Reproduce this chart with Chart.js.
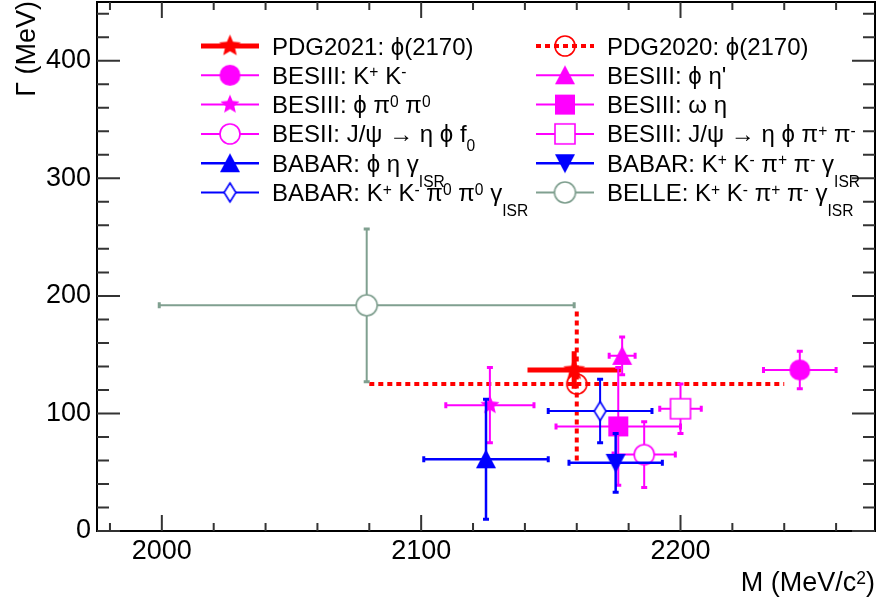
<!DOCTYPE html>
<html>
<head>
<meta charset="utf-8">
<script src="https://cdn.jsdelivr.net/npm/chart.js@4.4.1/dist/chart.umd.min.js"></script>
<style>
  html, body { margin: 0; padding: 0; background: #fff; }
  #chart { display: block; }
</style>
</head>
<body>
<canvas id="chart" width="877" height="604"></canvas>
<script>
// entries in legend order (row by row, left column then right column)
const entryLabels = [
  'PDG2021: ϕ(2170)', 'PDG2020: ϕ(2170)',
  'BESIII: K^{+} K^{-}', "BESIII: ϕ η'",
  'BESIII: ϕ π^{0} π^{0}', 'BESIII: ω η',
  'BESII: J/ψ → η ϕ f_{0}', 'BESIII: J/ψ → η ϕ π^{+} π^{-}',
  'BABAR: ϕ η γ_{ISR}', 'BABAR: K^{+} K^{-} π^{+} π^{-} γ_{ISR}',
  'BABAR: K^{+} K^{-} π^{0} π^{0} γ_{ISR}', 'BELLE: K^{+} K^{-} π^{+} π^{-} γ_{ISR}'
];
const mass     = [2159, 2160, 2246, 2177.5, 2126.5, 2176, 2186, 2200, 2125, 2175, 2169, 2079];
const massErr  = [18,   80,   14,   5,      17,     24,   12,   8,    24,   18,   20,   80];
const gamma    = [137,  125,  137,  149,    107,    89,   65,   104,  61,   58,   102,  192];
const gammaErr = [16,   65,   16,   16,     32,     50,   28,   21,   51,   25,   27,   65];

const xMajor = [2000, 2100, 2200];
const yMajor = [0, 100, 200, 300, 400];

const xTitle = 'M (MeV/c^{2})';
const yTitle = 'Γ (MeV)';

// styles
const FONT = '"Liberation Sans", Arial, Helvetica, "DejaVu Sans", sans-serif';
const RED = '#ff0000', MAG = '#ff00ff', BLUE = '#0000ff', GREY = '#80a090';
const colors = [RED, RED, MAG, MAG, MAG, MAG, MAG, MAG, BLUE, BLUE, BLUE, GREY];
const shapes = ['star', 'circle', 'circle', 'triangle', 'star', 'square', 'circle', 'square', 'triangle', 'itriangle', 'diamond', 'circle'];
const fills  = ['fill', 'hollow', 'fill', 'fill', 'fill', 'fill', 'open', 'open', 'fill', 'fill', 'open', 'open'];
const markerSizes = [23, 20, 21, 20, 20, 20, 20, 20, 20, 20, 19, 21];
const lineWidths = [5, 4, 2, 2, 2, 2, 2, 2, 2.5, 2.5, 2, 2];
const dashes = [[], [5, 4], [], [], [], [], [], [], [], [], [], []];
const caps = [false, false, true, true, true, true, true, true, true, true, true, true];

function makeMarker(shape, color, fill, size) {
  const pad = 3;
  const c = document.createElement('canvas');
  c.width = c.height = Math.ceil(size + pad * 2);
  const g = c.getContext('2d');
  const m = c.width / 2, r = size / 2;
  g.beginPath();
  if (shape === 'circle') {
    g.arc(m, m, r, 0, Math.PI * 2);
  } else if (shape === 'square') {
    g.rect(m - r, m - r, size, size);
  } else if (shape === 'triangle') {
    g.moveTo(m, m - r); g.lineTo(m + r, m + r * 0.9); g.lineTo(m - r, m + r * 0.9); g.closePath();
  } else if (shape === 'itriangle') {
    g.moveTo(m, m + r); g.lineTo(m + r, m - r * 0.9); g.lineTo(m - r, m - r * 0.9); g.closePath();
  } else if (shape === 'diamond') {
    g.moveTo(m, m - r); g.lineTo(m + r * 0.62, m); g.lineTo(m, m + r); g.lineTo(m - r * 0.62, m); g.closePath();
  } else if (shape === 'star') {
    for (let k = 0; k < 10; k++) {
      const a = -Math.PI / 2 + k * Math.PI / 5;
      const rr = k % 2 ? r * 0.45 : r;
      g.lineTo(m + rr * Math.cos(a), m + rr * Math.sin(a));
    }
    g.closePath();
  }
  if (fill === 'fill') {
    g.fillStyle = color; g.fill();
  } else {
    if (fill === 'open') { g.fillStyle = '#fff'; g.fill(); }
    g.strokeStyle = color; g.lineWidth = 1.6; g.stroke();
  }
  return c;
}

const markers = entryLabels.map((_, i) => makeMarker(shapes[i], colors[i], fills[i], markerSizes[i]));

const datasets = entryLabels.map((label, i) => ({
  label: label,
  data: [{ x: mass[i], y: gamma[i] }],
  pointStyle: markers[i],
  pointRadius: markerSizes[i] / 2,
  order: entryLabels.length - i
}));

// split "a^{b} c_{d}" into plain / super / sub pieces
function richSegments(str) {
  const segs = [];
  const re = /([\^_])\{([^}]*)\}/g;
  let last = 0, m;
  while ((m = re.exec(str))) {
    if (m.index > last) segs.push({ t: str.slice(last, m.index), k: '' });
    segs.push({ t: m[2], k: m[1] });
    last = re.lastIndex;
  }
  if (last < str.length) segs.push({ t: str.slice(last), k: '' });
  return segs;
}

function drawRich(ctx, str, x, y, size, align) {
  const segs = richSegments(str);
  const small = size * 0.65;
  let w = 0;
  segs.forEach(s => {
    ctx.font = (s.k ? small : size) + 'px ' + FONT;
    s.w = ctx.measureText(s.t).width;
    w += s.w;
  });
  let cx = align === 'right' ? x - w : x;
  ctx.textAlign = 'left';
  ctx.textBaseline = 'alphabetic';
  segs.forEach((s, j) => {
    ctx.font = (s.k ? small : size) + 'px ' + FONT;
    let dy = 0;
    if (s.k === '^') dy = -size * 0.27;
    if (s.k === '_') {
      const prev = j > 0 ? segs[j - 1].t.trim().slice(-1) : '';
      dy = /[γηψ]/.test(prev) ? size * 0.62 : size * 0.34;
    }
    ctx.fillText(s.t, cx, y + dy);
    cx += s.w;
  });
}

function noPadding(s) {
  s.paddingTop = 0; s.paddingBottom = 0; s.paddingLeft = 0; s.paddingRight = 0;
}

const rootStyle = {
  id: 'rootStyle',
  beforeDatasetsDraw(chart) {
    const { ctx } = chart;
    const xs = chart.scales.x, ys = chart.scales.y;
    const L = xs.left, R = xs.right, T = ys.top, B = ys.bottom;
    ctx.save();
    ctx.strokeStyle = '#000';
    ctx.lineWidth = 2;
    ctx.strokeRect(L, T, R - L, B - T);
    ctx.strokeStyle = '#333';
    ctx.beginPath();
    for (let v = 1980; v <= xs.max; v += 20) {
      const p = xs.getPixelForValue(v);
      const len = v % 100 === 0 ? 16 : 8;
      ctx.moveTo(p, B); ctx.lineTo(p, B - len);
      ctx.moveTo(p, T); ctx.lineTo(p, T + len);
    }
    for (let v = 0; v <= ys.max; v += 20) {
      const p = ys.getPixelForValue(v);
      const len = v % 100 === 0 ? 23 : 12;
      ctx.moveTo(L, p); ctx.lineTo(L + len, p);
      ctx.moveTo(R, p); ctx.lineTo(R - len, p);
    }
    ctx.stroke();
    ctx.restore();
  },
  beforeDatasetDraw(chart, args) {
    const i = args.index;
    const { ctx } = chart;
    const xs = chart.scales.x, ys = chart.scales.y;
    const px = xs.getPixelForValue(mass[i]), py = ys.getPixelForValue(gamma[i]);
    const x0 = xs.getPixelForValue(mass[i] - massErr[i]), x1 = xs.getPixelForValue(mass[i] + massErr[i]);
    const y0 = ys.getPixelForValue(gamma[i] - gammaErr[i]), y1 = ys.getPixelForValue(gamma[i] + gammaErr[i]);
    ctx.save();
    ctx.strokeStyle = colors[i];
    ctx.lineWidth = lineWidths[i];
    ctx.setLineDash(dashes[i]);
    ctx.beginPath();
    ctx.moveTo(x0, py); ctx.lineTo(x1, py);
    ctx.moveTo(px, y0); ctx.lineTo(px, y1);
    ctx.stroke();
    if (caps[i]) {
      ctx.setLineDash([]);
      ctx.lineWidth = 3;
      ctx.beginPath();
      ctx.moveTo(x0, py - 3); ctx.lineTo(x0, py + 3);
      ctx.moveTo(x1, py - 3); ctx.lineTo(x1, py + 3);
      ctx.moveTo(px - 3, y0); ctx.lineTo(px + 3, y0);
      ctx.moveTo(px - 3, y1); ctx.lineTo(px + 3, y1);
      ctx.stroke();
    }
    ctx.restore();
  },
  afterDraw(chart) {
    const { ctx } = chart;
    const xs = chart.scales.x;
    ctx.save();
    ctx.fillStyle = '#000';
    // axis titles
    drawRich(ctx, xTitle, xs.right, 591, 27, 'right');
    ctx.save();
    ctx.translate(35, 1);
    ctx.rotate(-Math.PI / 2);
    drawRich(ctx, yTitle, 0, 0, 27, 'right');
    ctx.restore();
    // legend
    entryLabels.forEach((label, i) => {
      const col = i % 2, row = Math.floor(i / 2);
      const yc = 46 + row * 29.3;
      const lx0 = col ? 536 : 201, lx1 = lx0 + 58, tx = col ? 607 : 272;
      ctx.save();
      ctx.strokeStyle = colors[i];
      ctx.lineWidth = lineWidths[i];
      ctx.setLineDash(dashes[i]);
      ctx.beginPath();
      ctx.moveTo(lx0, yc); ctx.lineTo(lx1, yc);
      ctx.stroke();
      ctx.restore();
      const mk = markers[i];
      ctx.drawImage(mk, (lx0 + lx1) / 2 - mk.width / 2, yc - mk.height / 2);
      ctx.fillStyle = '#000';
      drawRich(ctx, label, tx, yc + 8.5, 24, 'left');
    });
    ctx.restore();
  }
};

new Chart(document.getElementById('chart').getContext('2d'), {
  type: 'scatter',
  data: { datasets: datasets },
  options: {
    responsive: false,
    animation: false,
    layout: { autoPadding: false, padding: { left: 0, right: 2, top: 2, bottom: 0 } },
    plugins: {
      legend: { display: false },
      tooltip: { enabled: false }
    },
    scales: {
      x: {
        type: 'linear',
        min: 1975,
        max: 2275,
        afterBuildTicks: s => { s.ticks = xMajor.map(v => ({ value: v })); },
        afterFit: s => { s.height = 73; noPadding(s); },
        grid: { display: false, drawTicks: false },
        border: { display: false },
        ticks: { font: { family: FONT, size: 27 }, color: '#000', padding: 4, maxRotation: 0, autoSkip: false,
                 callback: v => String(v) }
      },
      y: {
        type: 'linear',
        min: 0,
        max: 450,
        afterBuildTicks: s => { s.ticks = yMajor.map(v => ({ value: v })); },
        afterFit: s => { s.width = 97; noPadding(s); },
        grid: { display: false, drawTicks: false },
        border: { display: false },
        ticks: { font: { family: FONT, size: 27 }, color: '#000', padding: 6, autoSkip: false,
                 callback: v => String(v) }
      }
    }
  },
  plugins: [rootStyle]
});
</script>
</body>
</html>
